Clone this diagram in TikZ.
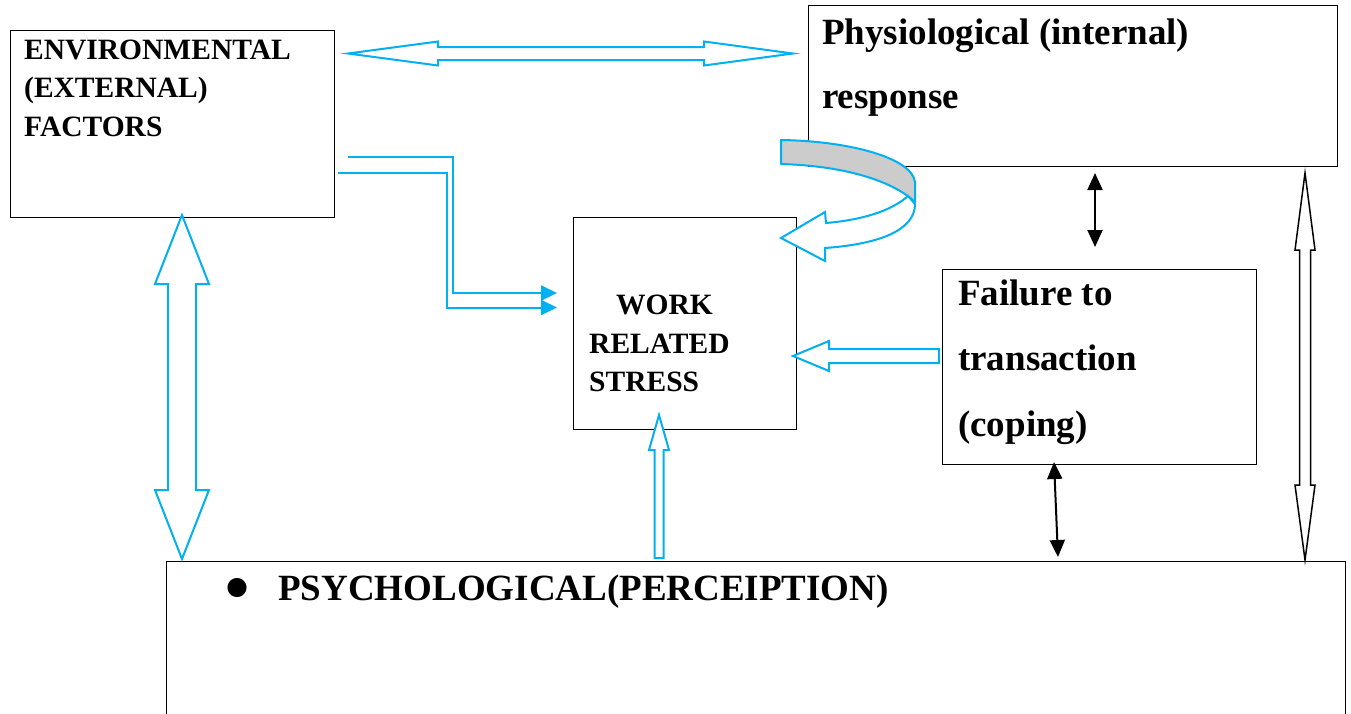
\documentclass[tikz,border=0pt]{standalone}
\usepackage{fontspec}
\setmainfont{Liberation Serif}
\usetikzlibrary{arrows.meta}
\definecolor{lb}{HTML}{00B0F0}
\definecolor{band}{HTML}{CCCCCC}
\begin{document}
\begin{tikzpicture}[x=1pt,y=-1pt,
  box/.style={draw=black,line width=1.3pt,inner sep=0pt,anchor=north west},
  hollow/.style={draw=lb,line width=2pt,fill=white,line join=miter},
  hollowk/.style={draw=black,line width=1.5pt,fill=white,line join=miter},
  lbl/.style={anchor=base west,inner sep=0pt,font=\fontsize{29.5}{30}\selectfont\bfseries},
  big/.style={anchor=base west,inner sep=0pt,font=\fontsize{37}{38}\selectfont\bfseries},
  dline/.style={draw=lb,line width=2pt,-{Triangle[length=16pt,width=15pt]}},
  karrow/.style={draw=black,line width=2pt,{Triangle[length=17pt,width=15pt]}-{Triangle[length=17pt,width=15pt]}}]
\useasboundingbox (0,0) rectangle (1351,713);
\clip (0,0) rectangle (1351,713);
\fill[white] (0,0) rectangle (1351,713);

% boxes
\node[box,minimum width=529pt,minimum height=161pt] (phys) at (808,5) {};
\node[box,minimum width=324pt,minimum height=187pt] (env) at (10,30) {};
\node[box,minimum width=223pt,minimum height=212pt] (work) at (573,217) {};
\node[box,minimum width=314pt,minimum height=195pt] (fail) at (942,269) {};
\node[box,minimum width=1179pt,minimum height=200pt] (psych) at (166,561) {};

% texts
\node[lbl] (envA) at (24,59) {ENVIRONMENTAL};
\node[lbl] (envB) at (24,97) {(EXTERNAL)};
\node[lbl] (envC) at (24,136) {FACTORS};
\node[big] (physA) at (822,44) {Physiological (internal)};
\node[big] (physB) at (822,108) {response};
\node[lbl] (workA) at (616,314) {WORK};
\node[lbl] (workB) at (589,353) {RELATED};
\node[lbl] (workC) at (589,391) {STRESS};
\node[big] (failA) at (958,305) {Failure to};
\node[big] (failB) at (958,370) {transaction};
\node[big] (failC) at (958,436) {(coping)};
\node[anchor=center,inner sep=0pt,font=\fontsize{80}{80}\selectfont] (bul) at (237.5,596.5) {\textbullet};
\node[big] (psA) at (278,600) {PSYCHOLOGICAL(PERCEIPTION)};

% top horizontal hollow double arrow
\path[hollow] (348,53.5) -- (438,41.5) -- (438,47) -- (704,47) -- (704,41.5) -- (793,53.5)
  -- (704,65.5) -- (704,60) -- (438,60) -- (438,65.5) -- cycle;

% left vertical hollow double arrow
\path[hollow] (182,215) -- (209,284) -- (196,284) -- (196,490) -- (209,490) -- (182,559)
  -- (155,490) -- (168,490) -- (168,284) -- (155,284) -- cycle;

% right black hollow double arrow
\path[hollowk] (1305,173) -- (1315,250) -- (1310.5,250) -- (1310.5,485) -- (1315,485) -- (1305,560)
  -- (1295,485) -- (1299.5,485) -- (1299.5,250) -- (1295,250) -- cycle;

% failure -> work hollow arrow
\path[hollow] (793,356) -- (829,341) -- (829,349) -- (939,349) -- (939,363) -- (829,363) -- (829,371) -- cycle;

% psych -> work hollow arrow
\path[hollow] (659,415) -- (669,450) -- (663.5,450) -- (663.5,558) -- (654.5,558) -- (654.5,450) -- (649,450) -- cycle;

% env -> work double line arrows
\draw[dline] (348,157) -- (453,157) -- (453,293) -- (557,293);
\draw[dline] (338,173) -- (447,173) -- (447,307.5) -- (557,307.5);

% small black arrows
\draw[karrow] (1095,173) -- (1095,247);
\draw[karrow] (1054,462) -- (1058,557);

% curved arrow phys -> work
\filldraw[fill=band,draw=lb,line width=2pt,line join=round]
  (781,140) .. controls (850,141) and (912,158) .. (915,182) -- (915,202)
  .. controls (895,183) and (850,166) .. (781,164) -- cycle;
\filldraw[fill=white,draw=lb,line width=2pt,line join=miter]
  (908,196) .. controls (890,212) and (860,220) .. (826,223) -- (825,212) -- (781,238)
  -- (825,261) -- (825,248) .. controls (880,244) and (915,230) .. (915,204) -- cycle;
\end{tikzpicture}
\end{document}
